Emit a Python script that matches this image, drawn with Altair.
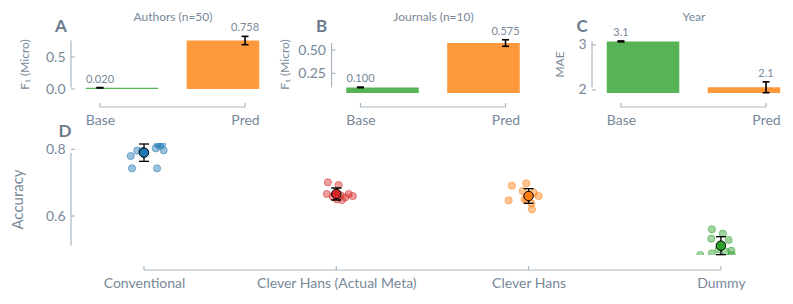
import altair as alt
import pandas as pd

# ---------------- data ----------------
models = ["Base", "Pred"]

authors_f1 = [0.020, 0.758]
authors_err = [0.003, 0.065]
journals_f1 = [0.100, 0.575]
journals_err = [0.003, 0.035]
year_mae = [3.08, 2.06]
year_err = [0.01, 0.12]

authors_ticks = [0.0, 0.5]
journals_ticks = [0.25, 0.50]
year_ticks = [2, 3]

groups = ["Conventional", "Clever Hans (Actual Meta)", "Clever Hans", "Dummy"]
group_mean = [0.790, 0.666, 0.660, 0.511]
group_err = [0.026, 0.018, 0.022, 0.027]

conventional_jitter = [-0.069, -0.062, -0.035, 0.068, 0.061, 0.102, 0.071, 0.095, 0.083, -0.010]
conventional_acc = [0.780, 0.743, 0.796, 0.743, 0.803, 0.797, 0.816, 0.816, 0.811, 0.795]
actual_meta_jitter = [-0.044, 0.012, -0.049, 0.064, 0.086, 0.029, 0.047, 0.003, -0.018, 0.022]
actual_meta_acc = [0.701, 0.693, 0.666, 0.666, 0.660, 0.648, 0.656, 0.650, 0.658, 0.662]
clever_hans_jitter = [-0.087, -0.012, -0.104, 0.052, 0.017, -0.031, 0.026, -0.021, 0.014, -0.010]
clever_hans_acc = [0.691, 0.698, 0.647, 0.660, 0.620, 0.675, 0.670, 0.650, 0.638, 0.651]
dummy_jitter = [-0.047, 0.010, -0.050, 0.040, -0.047, -0.107, 0.054, 0.057, -0.012, 0.024]
dummy_acc = [0.560, 0.547, 0.532, 0.528, 0.488, 0.483, 0.496, 0.483, 0.500, 0.493]

accuracy_ticks = [0.6, 0.8]

# ---------------- style ----------------
FONT = "Lato"
TEXT = "#778899"
SPINE = "#aab7c3"
LETTER = "#6b7b8b"
BAR_COLORS = ["#2ca02c", "#ff7f0e"]
GROUP_COLORS = ["#1f77b4", "#d62728", "#ff7f0e", "#2ca02c"]

TOP_W, TOP_H = 178, 58
D_W, D_H = 700, 112
BAR_W = 0.5
BAR_SHIFT = 0.152


def bar_panel(letter, title, ytitle, values, errs, fmt, ydom, yticks, yfmt, title_x):
    df = pd.DataFrame({"model": models, "pos": [0, 1], "value": values, "err": errs})
    df["lo"] = df["value"] - df["err"]
    df["hi"] = df["value"] + df["err"]
    df["x0"] = df["pos"] + BAR_SHIFT * (1 - 2 * df["pos"]) - BAR_W / 2
    df["x1"] = df["x0"] + BAR_W
    df["label"] = [fmt.format(v) for v in values]

    xs = alt.Scale(domain=[-0.110, 1.117], nice=False, zero=False)
    ys = alt.Scale(domain=ydom, nice=False, zero=False)
    xaxis = alt.Axis(values=[0, 1], labelExpr="datum.value < 0.5 ? 'Base' : 'Pred'",
                     title=None, domain=False, ticks=False, grid=False,
                     labelPadding=20, labelFontSize=14, labelColor=TEXT)
    yaxis = alt.Axis(values=yticks, format=yfmt, title=ytitle, domain=False, ticks=False,
                     grid=False, labelPadding=19, labelFontSize=14, labelColor=TEXT,
                     titleFontSize=12, titleFontWeight="normal", titleColor=TEXT,
                     titleX=title_x, titleY=TOP_H / 2, titleBaseline="middle",
                     titleAlign="center", titleAngle=270)

    base = alt.Chart(df)
    bars = base.mark_bar(clip=True, opacity=0.8).encode(
        x=alt.X("x0:Q", scale=xs, axis=xaxis),
        x2="x1:Q",
        y=alt.Y("value:Q", scale=ys, axis=yaxis),
        y2=alt.datum(0),
        color=alt.Color("model:N", scale=alt.Scale(domain=models, range=BAR_COLORS), legend=None),
    )
    err = base.mark_rule(color="black", strokeWidth=1.6).encode(
        x="pos:Q", y=alt.Y("lo:Q", title=ytitle), y2="hi:Q")
    cap_lo = base.mark_tick(orient="horizontal", size=7, thickness=1.6, color="black", opacity=1).encode(
        x="pos:Q", y=alt.Y("lo:Q", title=ytitle))
    cap_hi = base.mark_tick(orient="horizontal", size=7, thickness=1.6, color="black", opacity=1).encode(
        x="pos:Q", y=alt.Y("hi:Q", title=ytitle))
    txt = base.mark_text(baseline="bottom", dy=-3, fontSize=11, color=TEXT).encode(
        x="pos:Q", y=alt.Y("hi:Q", title=ytitle), text="label:N")

    spine_df = pd.DataFrame({"lo": [min(values)], "hi": [max(values)], "a": [0], "b": [1]})
    sp = alt.Chart(spine_df)
    xspine = sp.mark_rule(color=SPINE, strokeWidth=1.2).encode(
        x="a:Q", x2="b:Q", y=alt.value(TOP_H + 14))
    yspine = sp.mark_rule(color=SPINE, strokeWidth=1.2).encode(
        x=alt.value(-13), y=alt.Y("lo:Q", title=ytitle), y2="hi:Q")
    xt = base.mark_rule(color=SPINE, strokeWidth=1.2).encode(
        x="pos:Q", y=alt.value(TOP_H + 10), y2=alt.value(TOP_H + 14))
    yt = alt.Chart(pd.DataFrame({"t": yticks})).mark_rule(color=SPINE, strokeWidth=1.2).encode(
        x=alt.value(-13), x2=alt.value(-9), y=alt.Y("t:Q", title=ytitle))
    ann = alt.Chart(pd.DataFrame({"letter": [letter], "title": [title]}))
    let = ann.mark_text(fontSize=17, fontWeight="bold", color=LETTER).encode(
        x=alt.value(-23), y=alt.value(-8), text="letter:N")
    ttl = ann.mark_text(fontSize=12, color=TEXT).encode(
        x=alt.value(TOP_W / 2), y=alt.value(-18), text="title:N")

    return alt.layer(bars, err, cap_lo, cap_hi, txt, xspine, yspine, xt, yt, let, ttl).properties(
        width=TOP_W, height=TOP_H)


pA = bar_panel("A", "Authors (n=50)", "F₁ (Micro)", authors_f1, authors_err, "{:.3f}",
               [-0.0625, 0.844], authors_ticks, ".1f", -60)
pB = bar_panel("B", "Journals (n=10)", "F₁ (Micro)", journals_f1, journals_err, "{:.3f}",
               [0.040, 0.661], journals_ticks, ".2f", -60)
pC = bar_panel("C", "Year", "MAE", year_mae, year_err, "{:.1f}",
               [1.933, 3.222], year_ticks, "d", -46)

# ---------------- panel D ----------------
jit_lists = [conventional_jitter, actual_meta_jitter, clever_hans_jitter, dummy_jitter]
acc_lists = [conventional_acc, actual_meta_acc, clever_hans_acc, dummy_acc]
rows = []
for gi, (g, js, accs) in enumerate(zip(groups, jit_lists, acc_lists)):
    for j, a in zip(js, accs):
        rows.append({"group": g, "x": gi + j, "acc": a})
pts_df = pd.DataFrame(rows)
mean_df = pd.DataFrame({"group": groups, "pos": list(range(len(groups))),
                        "mean": group_mean, "err": group_err})
mean_df["lo"] = mean_df["mean"] - mean_df["err"]
mean_df["hi"] = mean_df["mean"] + mean_df["err"]

label_arr = "[" + ",".join("'" + g + "'" for g in groups) + "]"
dxs = alt.Scale(domain=[-0.312, 3.328], nice=False, zero=False)
dys = alt.Scale(domain=[0.483, 0.819], nice=False, zero=False)
gcol = alt.Scale(domain=groups, range=GROUP_COLORS)
dxaxis = alt.Axis(values=[0, 1, 2, 3], labelExpr=label_arr + "[datum.value]", title=None,
                  domain=False, ticks=False, grid=False, labelPadding=21, labelFontSize=14,
                  labelColor=TEXT)
dyaxis = alt.Axis(values=accuracy_ticks, format=".1f", title="Accuracy", domain=False, ticks=False,
                  grid=False, labelPadding=19, labelFontSize=14, labelColor=TEXT,
                  titleFontSize=15, titleFontWeight="normal", titleColor=TEXT,
                  titleX=-67, titleY=D_H / 2, titleBaseline="middle",
                  titleAlign="center", titleAngle=270)

pts = alt.Chart(pts_df).mark_point(filled=True, size=52, clip=True, fillOpacity=0.45,
                                   strokeOpacity=0.5, strokeWidth=1).encode(
    x=alt.X("x:Q", scale=dxs, axis=dxaxis),
    y=alt.Y("acc:Q", scale=dys, axis=dyaxis),
    color=alt.Color("group:N", scale=gcol, legend=None),
    stroke=alt.Stroke("group:N", scale=gcol, legend=None),
)
mb = alt.Chart(mean_df)
derr = mb.mark_rule(color="black", strokeWidth=1.3).encode(
    x="pos:Q", y=alt.Y("lo:Q", title="Accuracy"), y2="hi:Q")
dcap_lo = mb.mark_tick(orient="horizontal", size=10, thickness=1.3, color="black", opacity=1).encode(
    x="pos:Q", y=alt.Y("lo:Q", title="Accuracy"))
dcap_hi = mb.mark_tick(orient="horizontal", size=10, thickness=1.3, color="black", opacity=1).encode(
    x="pos:Q", y=alt.Y("hi:Q", title="Accuracy"))
mdot = mb.mark_point(filled=True, size=90, opacity=1, stroke="black", strokeWidth=1).encode(
    x="pos:Q", y=alt.Y("mean:Q", title="Accuracy"),
    color=alt.Color("group:N", scale=gcol, legend=None))

dsp_df = pd.DataFrame({"lo": [min(group_mean)], "hi": [max(group_mean)], "a": [0], "b": [len(groups) - 1]})
dsp = alt.Chart(dsp_df)
dxspine = dsp.mark_rule(color=SPINE, strokeWidth=1.2).encode(x="a:Q", x2="b:Q", y=alt.value(D_H + 15))
dyspine = dsp.mark_rule(color=SPINE, strokeWidth=1.2).encode(
    x=alt.value(-13), y=alt.Y("lo:Q", title="Accuracy"), y2="hi:Q")
dxt = mb.mark_rule(color=SPINE, strokeWidth=1.2).encode(
    x="pos:Q", y=alt.value(D_H + 11), y2=alt.value(D_H + 15))
dyt = alt.Chart(pd.DataFrame({"t": accuracy_ticks})).mark_rule(color=SPINE, strokeWidth=1.2).encode(
    x=alt.value(-13), x2=alt.value(-9), y=alt.Y("t:Q", title="Accuracy"))
dlet = alt.Chart(pd.DataFrame({"t": ["D"]})).mark_text(
    fontSize=17, fontWeight="bold", color=LETTER).encode(
    x=alt.value(-19), y=alt.value(-11), text="t:N")

pD = alt.layer(pts, derr, dcap_lo, dcap_hi, mdot, dxspine, dyspine, dxt, dyt, dlet).properties(
    width=D_W, height=D_H)

top = alt.hconcat(pA, pB, pC, spacing=82.5, bounds="flush")
chart = alt.vconcat(top, pD, spacing=108, bounds="flush").resolve_scale(
    color="independent", stroke="independent"
).properties(
    padding={"left": 2, "top": 3, "right": 0, "bottom": 0}
).configure(font=FONT).configure_view(stroke=None).configure_axis(grid=False)

chart.save("out.html", embed_options={"renderer": "svg", "actions": False})
